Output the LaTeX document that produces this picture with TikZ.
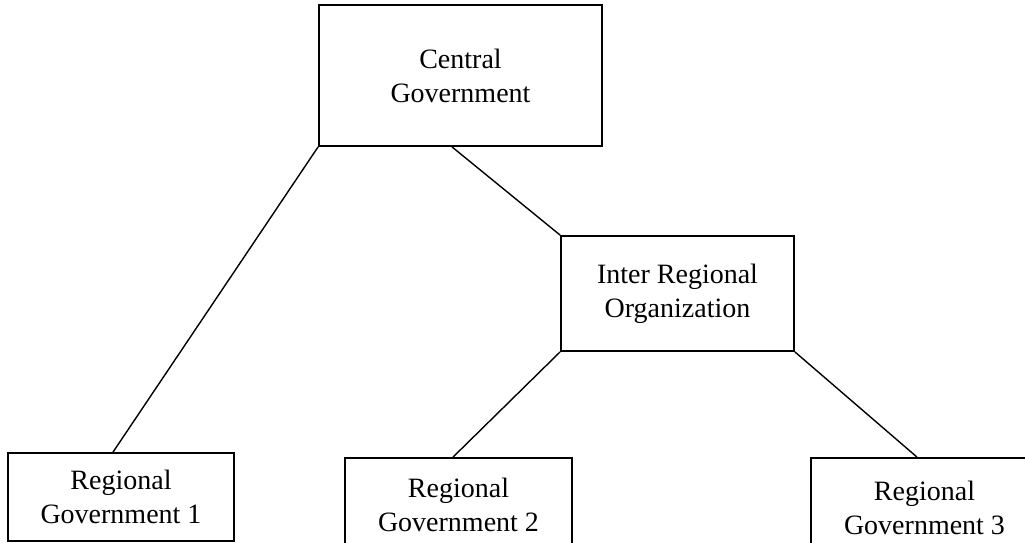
\documentclass[tikz,border=0pt]{standalone}
\usepackage{fontspec}
\setmainfont{Liberation Serif}
\begin{document}
\begin{tikzpicture}[x=1pt,y=-1pt,
  box/.style={draw, line width=1.8pt, rectangle, inner sep=0pt, align=center,
    font=\fontsize{28}{34}\selectfont},
  link/.style={line width=1.4pt}]
\useasboundingbox (0,0) rectangle (1025,543);
\clip (0,0) rectangle (1025,543);
\node[box, minimum width=283pt, minimum height=141pt] (cg) at (460.5,75.5) {Central\\Government};
\node[box, minimum width=233pt, minimum height=115pt] (iro) at (677.5,293.5) {Inter Regional\\Organization};
\node[box, minimum width=226pt, minimum height=88pt] (r1) at (121,497) {Regional\\Government 1};
\node[box, minimum width=227pt, minimum height=93pt] (r2) at (458.5,504.5) {Regional\\Government 2};
\node[box, minimum width=227pt, minimum height=99pt] (r3) at (924.5,507.5) {Regional\\Government 3};
\draw[link] (cg.south west) -- ([xshift=-8pt]r1.north);
\draw[link] ([xshift=-8.5pt]cg.south) -- (iro.north west);
\draw[link] (iro.south west) -- ([xshift=-5.5pt]r2.north);
\draw[link] (iro.south east) -- ([xshift=-7.5pt]r3.north);
\end{tikzpicture}
\end{document}
